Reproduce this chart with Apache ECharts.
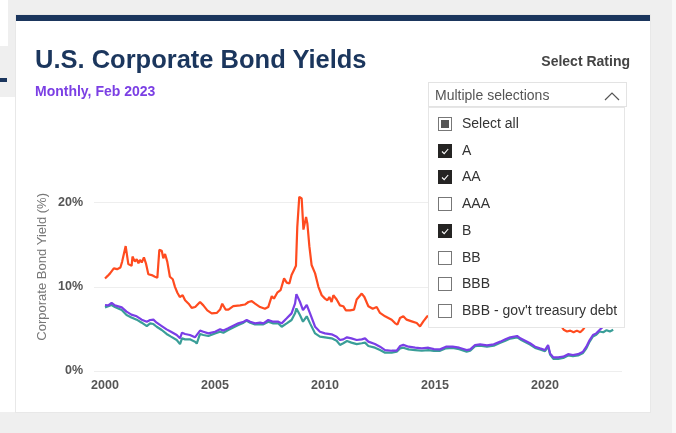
<!DOCTYPE html>
<html>
<head>
<meta charset="utf-8">
<script src="https://cdn.jsdelivr.net/npm/echarts@6/dist/echarts.min.js"></script>
<style>
  html, body { margin:0; padding:0; width:676px; height:433px; overflow:hidden; background:#efefef; font-family:"Liberation Sans", Arial, sans-serif; }
  .abs { position:absolute; }
  #card { left:16px; top:15px; width:634px; height:397px; background:#fff; box-shadow:0 0 0 1px #e8e8e8; }
  #topbar { left:16px; top:15px; width:634px; height:6px; background:#1b365d; }
  #chart { left:0; top:0; width:676px; height:433px; }
  #title { left:35px; top:45px; font-size:25.5px; font-weight:bold; color:#1b365d; white-space:nowrap; }
  #sub { left:35px; top:83px; font-size:14px; font-weight:bold; color:#7b3fe4; white-space:nowrap; }
  #sel { right:46px; top:53px; font-size:14px; font-weight:bold; color:#444; white-space:nowrap; }
  #ddhead { left:428px; top:82px; width:199px; height:25px; background:#fff; border:1px solid #e3e3e3; box-sizing:border-box; }
  #ddhead span { position:absolute; left:6px; top:4px; font-size:14px; color:#555; white-space:nowrap; }
  #ddhead svg { position:absolute; left:175px; top:8px; }
  #ddlist { left:428px; top:107px; width:197px; height:221px; background:#fff; border:1px solid #e6e6e6; box-sizing:border-box; }
  .item { position:absolute; left:9px; height:16px; font-size:14px; color:#333; white-space:nowrap; }
  .item .box { position:absolute; left:0; top:1px; width:14px; height:14px; box-sizing:border-box; border:1px solid #777; background:#fff; }
  .item .box.on { background:#252423; border-color:#252423; }
  .item .box.part::after { content:""; position:absolute; left:2px; top:2px; width:8px; height:8px; background:#555; }
  .item .txt { position:absolute; left:24px; top:-1px; }
</style>
</head>
<body>
<div id="lw1" class="abs" style="left:0;top:0;width:8px;height:46px;background:#fff"></div>
<div id="lbar" class="abs" style="left:0;top:78px;width:7px;height:4px;background:#1b365d"></div>
<div id="lw2" class="abs" style="left:0;top:97px;width:15px;height:315px;background:#fff"></div>
<div id="rw" class="abs" style="left:672px;top:0;width:4px;height:433px;background:#f8f8f8"></div>
<div id="card" class="abs"></div>
<div id="topbar" class="abs"></div>
<div id="chart" class="abs"></div>
<div id="title" class="abs">U.S. Corporate Bond Yields</div>
<div id="sub" class="abs">Monthly, Feb 2023</div>
<div id="sel" class="abs">Select Rating</div>
<div id="ddhead" class="abs"><span>Multiple selections</span>
  <svg width="16" height="10" viewBox="0 0 16 10"><polyline points="1,9 8,2 15,9" fill="none" stroke="#555" stroke-width="1.2"/></svg>
</div>
<div id="ddlist" class="abs"></div>

<script>
// ---- data (decimal year, percent yield) ----
var ratingItems = ["Select all", "A", "AA", "AAA", "B", "BB", "BBB", "BBB - gov't treasury debt"];
var ratingState = ["part", "on", "on", "off", "on", "off", "off", "off"];

var yTicks = [0, 10, 20];
var xTickYears = [2000, 2005, 2010, 2015, 2020];
var yAxisTitle = 'Corporate Bond Yield (%)';

var bSeries = [[2000.0,11.0],[2000.12,11.3],[2000.23,11.6],[2000.4,12.2],[2000.55,12.1],[2000.7,12.3],[2000.78,13.0],[2000.94,14.85],[2001.06,12.7],[2001.21,12.5],[2001.25,13.6],[2001.36,13.0],[2001.44,13.3],[2001.52,12.8],[2001.59,13.2],[2001.67,12.9],[2001.77,13.5],[2001.86,12.8],[2001.97,11.5],[2002.12,11.4],[2002.27,11.2],[2002.38,11.1],[2002.47,14.4],[2002.58,14.3],[2002.65,13.4],[2002.73,13.9],[2002.83,13.0],[2002.95,11.2],[2003.08,10.9],[2003.18,10.0],[2003.29,9.3],[2003.4,8.8],[2003.53,9.0],[2003.64,8.4],[2003.8,8.0],[2003.94,7.5],[2004.1,7.6],[2004.32,8.2],[2004.47,7.8],[2004.65,7.2],[2004.85,6.85],[2005.08,6.9],[2005.23,7.3],[2005.33,8.0],[2005.48,7.3],[2005.61,7.3],[2005.83,7.7],[2006.14,7.8],[2006.36,7.9],[2006.52,8.2],[2006.67,8.3],[2006.82,8.0],[2007.05,7.6],[2007.27,7.4],[2007.42,7.6],[2007.58,8.9],[2007.68,8.6],[2007.83,9.3],[2007.98,9.6],[2008.14,11.0],[2008.26,10.5],[2008.38,10.4],[2008.48,11.4],[2008.59,12.0],[2008.68,12.5],[2008.74,17.1],[2008.83,20.7],[2008.94,20.5],[2009.02,16.8],[2009.06,16.9],[2009.14,18.3],[2009.2,17.5],[2009.29,14.8],[2009.39,12.6],[2009.55,11.6],[2009.7,10.0],[2009.85,9.0],[2010.0,8.6],[2010.11,8.4],[2010.2,8.8],[2010.3,8.2],[2010.38,9.0],[2010.53,8.5],[2010.68,7.8],[2010.83,7.7],[2010.95,7.2],[2011.14,7.2],[2011.32,7.3],[2011.44,8.5],[2011.67,9.2],[2011.79,8.8],[2011.97,7.7],[2012.17,7.4],[2012.35,7.6],[2012.5,6.9],[2012.73,6.5],[2012.88,6.3],[2013.03,6.1],[2013.18,5.7],[2013.29,5.5],[2013.41,6.3],[2013.56,6.5],[2013.71,6.1],[2013.94,5.9],[2014.17,5.7],[2014.32,5.3],[2014.47,5.9],[2014.65,6.5],[2014.85,6.6],[2015.1,6.4],[2015.4,6.8],[2015.7,7.6],[2016.0,9.2],[2016.2,8.4],[2016.5,7.2],[2016.8,6.4],[2017.2,5.9],[2017.6,6.0],[2018.0,5.9],[2018.4,6.3],[2018.8,6.7],[2019.0,7.6],[2019.3,6.5],[2019.7,6.3],[2020.0,5.8],[2020.2,9.3],[2020.4,7.4],[2020.6,6.0],[2020.75,5.3],[2020.85,4.9],[2021.0,4.7],[2021.15,4.8],[2021.3,4.6],[2021.45,4.8],[2021.6,4.6],[2021.72,4.9],[2021.85,5.4],[2022.0,5.6],[2022.25,6.9],[2022.5,8.4],[2022.75,8.8],[2023.0,8.1],[2023.1,8.3]];

var aSeries = [[2000.0,7.84],[2000.15,7.8],[2000.3,8.1],[2000.45,7.8],[2000.76,7.56],[2000.98,7.05],[2001.2,6.7],[2001.44,6.5],[2001.67,6.1],[2001.9,5.86],[2002.05,6.06],[2002.2,6.1],[2002.35,5.74],[2002.58,5.34],[2002.8,4.95],[2003.0,4.67],[2003.26,4.28],[2003.41,3.88],[2003.5,4.55],[2003.64,4.4],[2003.86,4.28],[2004.09,4.0],[2004.17,3.88],[2004.32,4.8],[2004.47,4.67],[2004.7,4.47],[2005.0,4.67],[2005.23,4.95],[2005.38,4.8],[2005.6,5.07],[2005.83,5.38],[2006.06,5.66],[2006.3,5.86],[2006.44,6.06],[2006.6,5.86],[2006.82,5.66],[2007.05,5.74],[2007.2,5.66],[2007.42,6.06],[2007.65,5.86],[2007.88,5.86],[2008.03,5.66],[2008.26,6.26],[2008.48,6.85],[2008.64,8.04],[2008.7,9.14],[2008.86,8.23],[2009.0,7.24],[2009.17,7.84],[2009.32,6.85],[2009.55,5.26],[2009.77,4.67],[2010.0,4.47],[2010.3,4.36],[2010.53,4.08],[2010.68,3.68],[2010.83,3.76],[2011.0,4.0],[2011.2,3.88],[2011.44,3.68],[2011.67,3.76],[2011.82,3.88],[2011.97,3.49],[2012.27,3.2],[2012.5,2.89],[2012.73,2.49],[2013.03,2.41],[2013.26,2.41],[2013.41,2.97],[2013.56,3.1],[2013.8,2.89],[2014.1,2.77],[2014.4,2.69],[2014.7,2.77],[2014.95,2.6],[2015.23,2.57],[2015.5,2.89],[2015.8,2.89],[2016.1,2.77],[2016.44,2.49],[2016.6,2.57],[2016.82,3.09],[2017.05,3.17],[2017.36,3.05],[2017.67,3.17],[2017.97,3.49],[2018.2,3.76],[2018.42,4.0],[2018.73,4.16],[2018.88,3.88],[2019.1,3.6],[2019.32,3.3],[2019.55,2.89],[2019.77,2.69],[2020.0,2.49],[2020.14,3.09],[2020.23,2.1],[2020.38,1.62],[2020.6,1.62],[2020.83,1.7],[2021.05,2.0],[2021.27,1.9],[2021.5,2.0],[2021.73,2.3],[2021.88,2.89],[2022.03,3.68],[2022.18,4.28],[2022.33,4.47],[2022.48,4.87],[2022.65,5.3],[2022.8,5.6],[2022.95,5.4],[2023.1,5.5]];

var aaSeries = [[2000.0,7.56],[2000.3,7.84],[2000.45,7.6],[2000.76,7.24],[2000.98,6.65],[2001.2,6.37],[2001.44,6.1],[2001.67,5.74],[2001.9,5.34],[2002.05,5.66],[2002.2,5.58],[2002.35,5.26],[2002.58,4.87],[2002.8,4.4],[2003.0,4.08],[2003.26,3.68],[2003.41,3.2],[2003.5,3.88],[2003.64,3.76],[2003.86,3.76],[2004.09,3.49],[2004.17,3.25],[2004.32,4.4],[2004.47,4.28],[2004.7,4.16],[2005.0,4.47],[2005.23,4.67],[2005.38,4.55],[2005.6,4.87],[2005.83,5.18],[2006.06,5.46],[2006.3,5.74],[2006.44,5.98],[2006.6,5.74],[2006.82,5.54],[2007.05,5.58],[2007.2,5.54],[2007.42,5.86],[2007.65,5.66],[2007.88,5.66],[2008.03,5.26],[2008.26,5.66],[2008.48,6.06],[2008.64,6.85],[2008.7,7.44],[2008.86,6.65],[2009.0,5.86],[2009.17,6.5],[2009.32,5.66],[2009.55,4.47],[2009.77,4.08],[2010.0,4.0],[2010.3,3.88],[2010.53,3.6],[2010.68,3.1],[2010.83,3.3],[2011.0,3.56],[2011.2,3.37],[2011.44,3.2],[2011.67,3.3],[2011.82,3.37],[2011.97,2.97],[2012.27,2.77],[2012.5,2.49],[2012.73,2.18],[2013.03,2.18],[2013.26,2.3],[2013.41,2.69],[2013.56,2.77],[2013.8,2.57],[2014.1,2.49],[2014.4,2.41],[2014.7,2.49],[2014.95,2.4],[2015.23,2.4],[2015.5,2.7],[2015.8,2.75],[2016.1,2.6],[2016.44,2.3],[2016.6,2.4],[2016.82,2.95],[2017.05,3.0],[2017.36,2.9],[2017.67,3.0],[2017.97,3.35],[2018.2,3.6],[2018.42,3.85],[2018.73,4.0],[2018.88,3.75],[2019.1,3.45],[2019.32,3.15],[2019.55,2.75],[2019.77,2.55],[2020.0,2.35],[2020.14,2.9],[2020.23,1.95],[2020.38,1.45],[2020.6,1.45],[2020.83,1.55],[2021.05,1.85],[2021.27,1.75],[2021.5,1.85],[2021.73,2.15],[2021.88,2.7],[2022.03,3.5],[2022.18,4.1],[2022.33,4.3],[2022.48,4.7],[2022.65,4.6],[2022.8,4.85],[2022.95,4.7],[2023.1,4.9]];

// ---- dropdown list ----
var list = document.getElementById('ddlist');
var itemTops = 8, itemStep = 26.7;
ratingItems.forEach(function (name, i) {
  var d = document.createElement('div');
  d.className = 'item';
  d.style.top = (itemTops + i * itemStep) + 'px';
  var cls = ratingState[i] === 'on' ? 'box on' : (ratingState[i] === 'part' ? 'box part' : 'box');
  var check = ratingState[i] === 'on'
    ? '<svg width="12" height="12" viewBox="0 0 12 12" style="position:absolute;left:0;top:0"><polyline points="3,6.5 5.2,8.6 9.2,4" fill="none" stroke="#fff" stroke-width="1.1"/></svg>' : '';
  d.innerHTML = '<span class="' + cls + '">' + check + '</span><span class="txt"></span>';
  d.querySelector('.txt').textContent = name;
  list.appendChild(d);
});

// ---- chart ----
var chart = echarts.init(document.getElementById('chart'), null, { renderer: 'canvas' });
var labelFont = { color: '#555', fontWeight: 'bold', fontSize: 12.5, fontFamily: 'Liberation Sans, Arial, sans-serif' };
chart.setOption({
  backgroundColor: 'transparent',
  animation: false,
  grid: { left: 94, right: 54, top: 202.7, bottom: 62 },
  graphic: [{
    type: 'text', left: 36, top: 193, rotation: Math.PI / 2,
    style: { text: yAxisTitle, fill: '#777', fontSize: 13, fontFamily: 'Liberation Sans, Arial, sans-serif' }
  }],
  xAxis: {
    type: 'value', min: 1999.5, max: 2023.5, interval: 0.5,
    axisLine: { show: false }, axisTick: { show: false }, splitLine: { show: false },
    axisLabel: Object.assign({
      margin: 8,
      formatter: function (v) { return xTickYears.indexOf(Math.round(v * 10) / 10) >= 0 ? String(Math.round(v)) : ''; }
    }, labelFont)
  },
  yAxis: {
    type: 'value', min: 0, max: 20, interval: 10,
    axisLine: { show: false }, axisTick: { show: false },
    splitLine: { lineStyle: { color: '#eeeeee', width: 1 } },
    axisLabel: Object.assign({ margin: 11, formatter: function (v) { return yTicks.indexOf(v) >= 0 ? v + '%' : ''; } }, labelFont)
  },
  series: [
    { name: 'B', type: 'line', data: bSeries, showSymbol: false, clip: false, lineStyle: { color: '#ff4b1f', width: 2.2 }, itemStyle: { color: '#ff4b1f' } },
    { name: 'AA', type: 'line', data: aaSeries, showSymbol: false, clip: false, lineStyle: { color: '#3a9e98', width: 2.2 }, itemStyle: { color: '#3a9e98' } },
    { name: 'A', type: 'line', data: aSeries, showSymbol: false, clip: false, lineStyle: { color: '#7a3ee6', width: 2.2 }, itemStyle: { color: '#7a3ee6' } }
  ]
});
</script>
</body>
</html>
